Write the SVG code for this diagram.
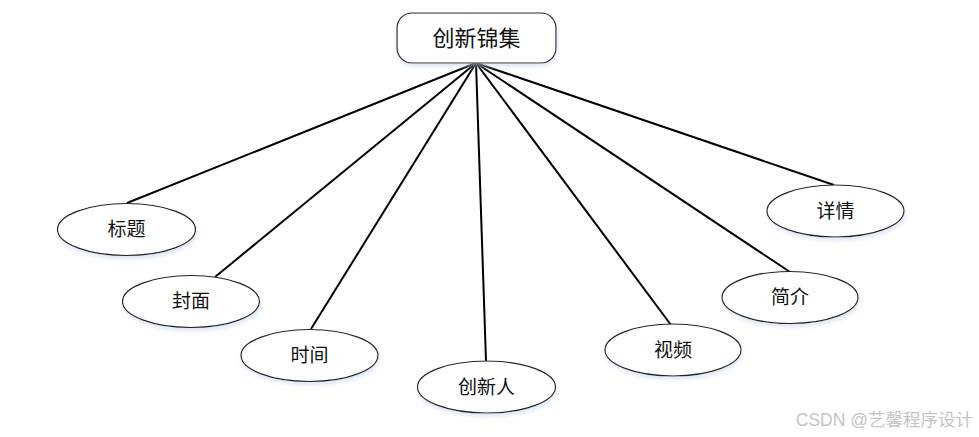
<svg xmlns="http://www.w3.org/2000/svg" width="979" height="437" viewBox="0 0 979 437">
<defs>
<filter id="sh" x="-20%" y="-30%" width="140%" height="170%">
<feGaussianBlur in="SourceAlpha" stdDeviation="2"/>
<feOffset dx="1" dy="3" result="b"/>
<feFlood flood-color="#c8d8f0" flood-opacity="0.6"/>
<feComposite in2="b" operator="in"/>
<feMerge><feMergeNode/><feMergeNode in="SourceGraphic"/></feMerge>
</filter>
</defs>
<style>
.n{fill:#fff;stroke:#222;stroke-width:1.2;filter:url(#sh)}
.t{font-family:"Liberation Sans","Noto Sans CJK SC",sans-serif;font-size:19px;fill:#111;text-anchor:middle;dominant-baseline:central}
.e{stroke:#000;stroke-width:2;fill:none}
</style>
<rect width="979" height="437" fill="#fff"/>
<g id="edges">
<line class="e" x1="476" y1="63" x2="127" y2="203"/>
<line class="e" x1="476" y1="63" x2="215" y2="277"/>
<line class="e" x1="476" y1="63" x2="311" y2="329"/>
<line class="e" x1="476" y1="63" x2="486" y2="361"/>
<line class="e" x1="476" y1="63" x2="671" y2="325"/>
<line class="e" x1="476" y1="63" x2="790" y2="272"/>
<line class="e" x1="476" y1="63" x2="834" y2="185"/>
</g>
<g id="root"><rect class="n" x="397" y="13" width="159" height="50" rx="15"/><text class="t" x="476.5" y="38" style="font-size:22px">创新锦集</text></g>
<g id="biaoti"><ellipse class="n" cx="126.5" cy="229.5" rx="69" ry="26"/><text class="t" x="126.5" y="229.5">标题</text></g>
<g id="fengmian"><ellipse class="n" cx="191" cy="301.5" rx="68.5" ry="26"/><text class="t" x="191" y="301.5">封面</text></g>
<g id="shijian"><ellipse class="n" cx="309.5" cy="355.5" rx="68.5" ry="26"/><text class="t" x="309.5" y="355.5">时间</text></g>
<g id="chuangxinren"><ellipse class="n" cx="486.5" cy="387" rx="69" ry="26"/><text class="t" x="486.5" y="387">创新人</text></g>
<g id="shipin"><ellipse class="n" cx="673" cy="350" rx="68" ry="26"/><text class="t" x="673" y="350">视频</text></g>
<g id="jianjie"><ellipse class="n" cx="790" cy="297.5" rx="68" ry="26"/><text class="t" x="790" y="297.5">简介</text></g>
<g id="xiangqing"><ellipse class="n" cx="835.5" cy="211" rx="68.5" ry="26"/><text class="t" x="835.5" y="211">详情</text></g>
<text x="973" y="420" style="font-family:'Liberation Sans','Noto Sans CJK SC',sans-serif;font-size:17.5px;fill:#c4c4c4;text-anchor:end;dominant-baseline:central">CSDN @艺馨程序设计</text>
</svg>
